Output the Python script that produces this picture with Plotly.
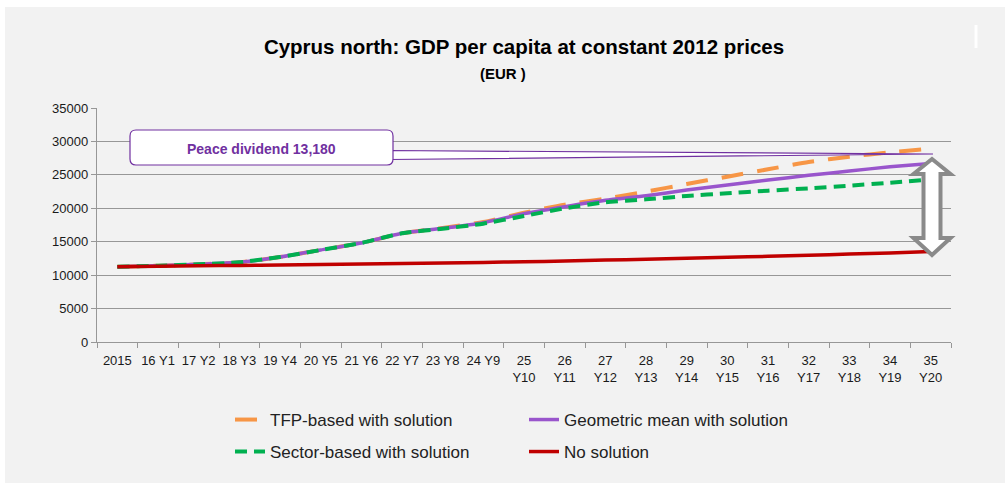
import plotly.graph_objects as go

# ---------------- data ----------------
categories = ["2015", "16 Y1", "17 Y2", "18 Y3", "19 Y4", "20 Y5", "21 Y6", "22 Y7",
              "23 Y8", "24 Y9", "25<br>Y10", "26<br>Y11", "27<br>Y12", "28<br>Y13",
              "29<br>Y14", "30<br>Y15", "31<br>Y16", "32<br>Y17", "33<br>Y18",
              "34<br>Y19", "35<br>Y20"]

tfp_based = [11270, 11410, 11620, 11920, 12710, 13760, 14810, 16260, 17050, 17950,
             19340, 20540, 21440, 22480, 23630, 24730, 25830, 26920, 27720, 28370, 28920]
geometric_mean = [11270, 11410, 11620, 11920, 12710, 13760, 14810, 16260, 17000, 17850,
                  19200, 20240, 21200, 21880, 22730, 23480, 24230, 24930, 25580, 26200, 26700]
sector_based = [11270, 11410, 11620, 11920, 12710, 13760, 14810, 16260, 16950, 17700,
                18850, 19990, 20900, 21340, 21840, 22240, 22640, 22980, 23380, 23830, 24330]
no_solution = [11270, 11330, 11400, 11460, 11520, 11580, 11650, 11730, 11810, 11900,
               12000, 12120, 12250, 12390, 12530, 12670, 12820, 12970, 13150, 13330, 13520]

series_names = ["TFP-based with solution", "Geometric mean with solution",
                "Sector-based with solution", "No solution"]
y_ticks = [0, 5000, 10000, 15000, 20000, 25000, 30000, 35000]

title_text = "Cyprus north: GDP per capita at constant 2012 prices"
subtitle_text = "(EUR )"
callout_text = "Peace dividend 13,180"

# ---------------- figure ----------------
W, H = 1005, 483
ML, MR, MT, MB = 97, 54, 108, 141
PW = W - ML - MR
PH = H - MT - MB
YMAX = 35000


def px_x(px):
    return (px - ML) / PW


def px_y(py):
    return (H - MB - py) / PH


def data_y(py):
    return (H - MB - py) / PH * YMAX


fig = go.Figure()
styles = [
    dict(color="#f79646", width=4, dash="22px,14px", shape="spline", smoothing=0.6),
    dict(color="#9955cc", width=3.5, dash="solid", shape="spline", smoothing=0.6),
    dict(color="#00b050", width=4, dash="12px,7px", shape="spline", smoothing=0.6),
    dict(color="#c00000", width=3.5, dash="solid", shape="spline", smoothing=0.6),
]
legend_ids = ["legend", "legend", "legend2", "legend2"]
for name, vals, st, lg in zip(series_names,
                              [tfp_based, geometric_mean, sector_based, no_solution],
                              styles, legend_ids):
    fig.add_trace(go.Scatter(x=categories, y=vals, name=name, mode="lines",
                             line=st, hoverinfo="skip", legend=lg))

font_main = "Liberation Sans, Arial, sans-serif"
grid = "#979797"
legend_common = dict(orientation="h", x=px_x(230), xanchor="left", yanchor="top",
                     entrywidth=249, bgcolor="rgba(0,0,0,0)",
                     font=dict(size=17, color="#222222", family=font_main),
                     traceorder="normal")

fig.update_layout(
    width=W, height=H,
    margin=dict(l=ML, r=MR, t=MT, b=MB, pad=0),
    paper_bgcolor="#f2f2f2",
    plot_bgcolor="#f2f2f2",
    font=dict(family=font_main, color="#1a1a1a", size=13),
    title=dict(text="<b>" + title_text + "</b>", x=0.5, xref="paper", xanchor="center",
               y=1 - 47 / H, yref="container", yanchor="middle",
               font=dict(size=20.5, color="#000000", family=font_main)),
    showlegend=True,
    legend=dict(y=px_y(402), **legend_common),
    legend2=dict(y=px_y(434), **legend_common),
    xaxis=dict(type="category", range=[-0.5, len(categories) - 0.5],
               tickson="boundaries", ticks="outside", ticklen=5,
               tickcolor=grid, showline=True, linecolor=grid, linewidth=1.3,
               showgrid=False, tickfont=dict(size=13, color="#1a1a1a"), tickangle=0,
               ticklabelstandoff=6, fixedrange=True),
    yaxis=dict(range=[0, YMAX], tickvals=y_ticks, tickformat="d", ticks="outside",
               ticklen=5, tickcolor=grid, showline=True, linecolor=grid, linewidth=1.3,
               showgrid=True, gridcolor=grid, gridwidth=1.3, zeroline=False,
               tickfont=dict(size=13, color="#1a1a1a"), fixedrange=True),
)

shapes = []
# white page edges around the grey panel
shapes.append(dict(type="rect", xref="paper", yref="paper", x0=px_x(0), x1=px_x(W),
                   y0=px_y(0), y1=px_y(7), fillcolor="white", line=dict(width=0), layer="below"))
shapes.append(dict(type="rect", xref="paper", yref="paper", x0=px_x(0), x1=px_x(5),
                   y0=px_y(H), y1=px_y(0), fillcolor="white", line=dict(width=0), layer="below"))
# small white mark top right
shapes.append(dict(type="line", xref="paper", yref="paper", x0=px_x(976), x1=px_x(976),
                   y0=px_y(25), y1=px_y(48), line=dict(color="white", width=3)))

# callout pointer (wedge) to last point
bx0, bx1 = px_x(130), px_x(393)
by0, by1 = data_y(165), data_y(130)
tip_x = px_x(933)
shapes.append(dict(type="path", xref="paper", yref="y",
                   path=f"M {bx1 - 0.004},{data_y(150.5)} L {tip_x},{data_y(154)} L {bx1 - 0.004},{data_y(159.5)} Z",
                   fillcolor="white", line=dict(color="#7030a0", width=1.2), layer="above"))
# callout box with rounded corners
rx = 6 / PW
ry = 6 / PH * YMAX
box_path = (f"M {bx0 + rx},{by1} L {bx1 - rx},{by1} Q {bx1},{by1} {bx1},{by1 - ry} "
            f"L {bx1},{by0 + ry} Q {bx1},{by0} {bx1 - rx},{by0} "
            f"L {bx0 + rx},{by0} Q {bx0},{by0} {bx0},{by0 + ry} "
            f"L {bx0},{by1 - ry} Q {bx0},{by1} {bx0 + rx},{by1} Z")
shapes.append(dict(type="path", xref="paper", yref="y", path=box_path,
                   fillcolor="white", line=dict(color="#7030a0", width=1.2), layer="above"))

# double-headed arrow
cx = px_x(932)
hw = 18.5 / PW
sw = 8.5 / PW
t_tip, t_base = data_y(159), data_y(174)
b_base, b_tip = data_y(238), data_y(255)
arrow_path = (f"M {cx},{t_tip} L {cx + hw},{t_base} L {cx + sw},{t_base} L {cx + sw},{b_base} "
              f"L {cx + hw},{b_base} L {cx},{b_tip} L {cx - hw},{b_base} L {cx - sw},{b_base} "
              f"L {cx - sw},{t_base} L {cx - hw},{t_base} Z")
shapes.append(dict(type="path", xref="paper", yref="y", path=arrow_path,
                   fillcolor="white", line=dict(color="#8a8a8a", width=4), layer="above"))

fig.update_layout(shapes=shapes)

fig.add_annotation(text="<b>" + subtitle_text + "</b>", xref="paper", yref="paper",
                   x=px_x(W / 2), y=px_y(73), showarrow=False,
                   xanchor="center", yanchor="middle",
                   font=dict(size=15, color="#000000", family=font_main))
fig.add_annotation(text="<b>" + callout_text + "</b>", xref="paper", yref="y",
                   x=(bx0 + bx1) / 2, y=data_y(149), showarrow=False,
                   xanchor="center", yanchor="middle",
                   font=dict(size=14, color="#7030a0", family=font_main))

fig.write_html("out.html", post_script="document.body.style.margin='0';",
               config={"displayModeBar": False})
